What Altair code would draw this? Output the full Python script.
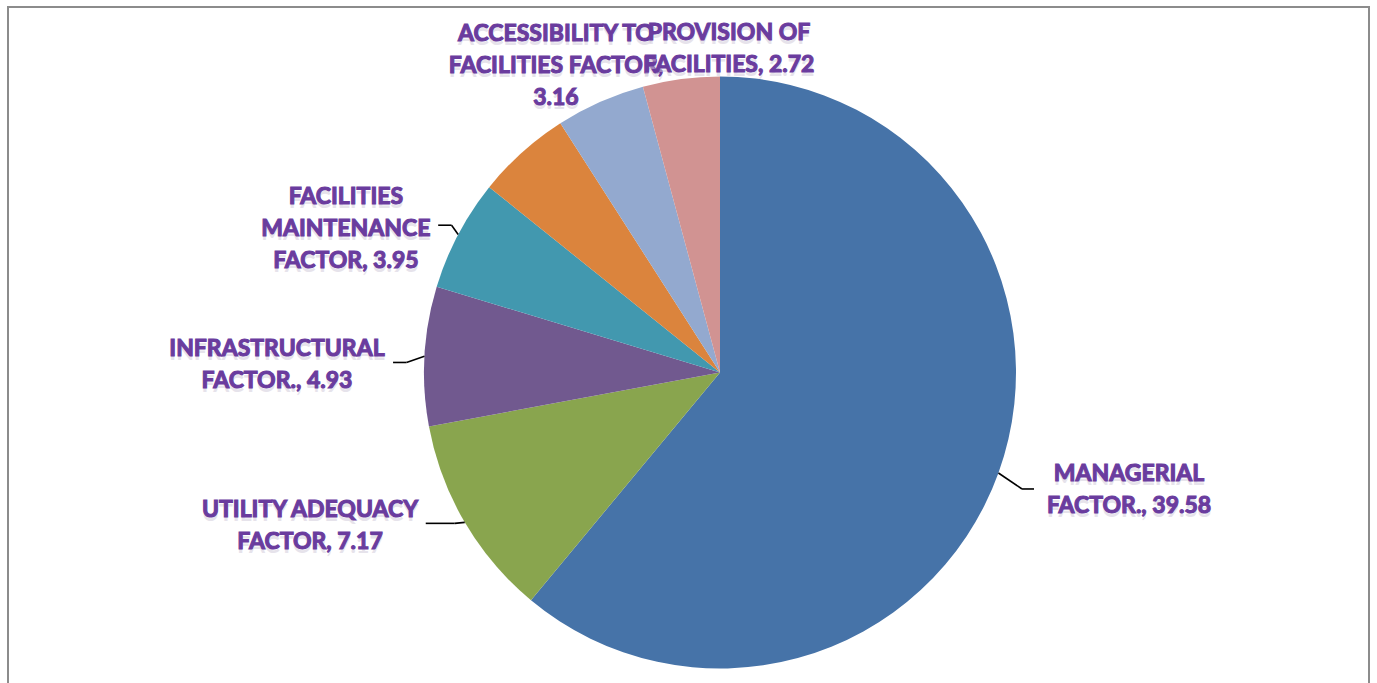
import altair as alt
import pandas as pd

# ---------------- data ----------------
categories = [
    "MANAGERIAL FACTOR.",
    "UTILITY ADEQUACY FACTOR",
    "INFRASTRUCTURAL FACTOR.",
    "FACILITIES MAINTENANCE FACTOR",
    "UNLABELLED SLICE",
    "ACCESSIBILITY TO FACILITIES FACTOR",
    "PROVISION OF FACILITIES",
]
values = [39.58, 7.17, 4.93, 3.95, 3.35, 3.16, 2.72]
labels = [
    "MANAGERIAL\nFACTOR., 39.58",
    "UTILITY ADEQUACY\nFACTOR, 7.17",
    "INFRASTRUCTURAL\nFACTOR., 4.93",
    "FACILITIES\nMAINTENANCE\nFACTOR, 3.95",
    "",
    "ACCESSIBILITY TO\nFACILITIES FACTOR,\n3.16",
    "PROVISION OF\nFACILITIES, 2.72",
]
colors = ["#4673A8", "#89A54E", "#71598F", "#4298AF", "#DB843D", "#93A9CF", "#D19392"]

df = pd.DataFrame({
    "category": categories,
    "value": values,
    "label": labels,
    "order": list(range(len(categories))),
})

# ---------------- style / layout ----------------
W, H = 1377, 683
CX, CY, R = 720, 372.5, 296
TEXT_COLOR = "#6A3C9E"
FONT = "Lato"
FSIZE = 23
LINE_H = 32

# leader lines: (elbow dx, elbow dy, horizontal length) relative to slice edge point
leaders = {
    "MANAGERIAL FACTOR.": (23.6, 16.0, 12.0),
    "UTILITY ADEQUACY FACTOR": (-10.0, 1.0, -29.0),
    "INFRASTRUCTURAL FACTOR.": (-18.0, 6.3, -13.4),
    "FACILITIES MAINTENANCE FACTOR": (-6.6, -9.2, -13.4),
}
# label block centres: (dx, dy) relative to slice edge point
label_pos = {
    "MANAGERIAL FACTOR.": (130.6, 17.5),
    "UTILITY ADEQUACY FACTOR": (-154.7, 4.0),
    "INFRASTRUCTURAL FACTOR.": (-147.5, 9.0),
    "FACILITIES MAINTENANCE FACTOR": (-112.3, -5.7),
    "ACCESSIBILITY TO FACILITIES FACTOR": (-44.3, -36.0),
    "PROVISION OF FACILITIES": (47.9, -29.8),
}

base = (
    alt.Chart(df)
    .transform_joinaggregate(total="sum(value)")
    .transform_window(cum="sum(value)", sort=[alt.SortField("order")], frame=[None, 0])
    .transform_calculate(mid="(datum.cum - datum.value/2) / datum.total * 2 * PI")
    .transform_calculate(
        ex=f"{CX} + {R} * sin(datum.mid)",
        ey=f"{CY} - {R} * cos(datum.mid)",
    )
)

pie = alt.Chart(df).mark_arc(outerRadius=R).encode(
    theta=alt.Theta("value:Q", stack=True),
    color=alt.Color("category:N", scale=alt.Scale(domain=categories, range=colors), legend=None),
    order=alt.Order("order:Q"),
    x=alt.value(CX),
    y=alt.value(CY),
)

layers = [pie]

for cat, (edx, edy, hl) in leaders.items():
    seg = base.transform_filter(alt.datum.category == cat).transform_calculate(
        bx=f"datum.ex + {edx}", by=f"datum.ey + {edy}", cx2=f"datum.ex + {edx} + {hl}"
    )
    r1 = seg.mark_rule(color="black", strokeWidth=1.6).encode(
        x=alt.X("ex:Q", scale=None), y=alt.Y("ey:Q", scale=None),
        x2="bx:Q", y2="by:Q",
    )
    r2 = seg.mark_rule(color="black", strokeWidth=1.6).encode(
        x=alt.X("bx:Q", scale=None), y=alt.Y("by:Q", scale=None),
        x2="cx2:Q", y2="by:Q",
    )
    layers += [r1, r2]

for cat, (dx, dy) in label_pos.items():
    nbreaks = labels[categories.index(cat)].count("\n")
    shift = nbreaks * LINE_H / 2
    lab = base.transform_filter(alt.datum.category == cat).transform_calculate(
        lx=f"datum.ex + {dx}", ly=f"datum.ey + {dy} - {shift}"
    )
    shadow = lab.mark_text(
        font=FONT, fontSize=FSIZE, fontWeight="bold", color="#CFC8D8", opacity=0.5,
        align="center", baseline="middle", lineBreak="\n", lineHeight=LINE_H, dy=4,
    ).encode(x=alt.X("lx:Q", scale=None), y=alt.Y("ly:Q", scale=None), text="label:N")
    txt = lab.mark_text(
        font=FONT, fontSize=FSIZE, fontWeight="bold", color=TEXT_COLOR,
        stroke=TEXT_COLOR, strokeWidth=1.1,
        align="center", baseline="middle", lineBreak="\n", lineHeight=LINE_H,
    ).encode(x=alt.X("lx:Q", scale=None), y=alt.Y("ly:Q", scale=None), text="label:N")
    layers += [shadow, txt]

frame = alt.Chart(pd.DataFrame({"f": [0]})).mark_rect(
    filled=False, stroke="#8C8C8C", strokeWidth=2
).encode(x=alt.value(8), x2=alt.value(1369), y=alt.value(7), y2=alt.value(720))
layers.append(frame)

chart = (
    alt.layer(*layers)
    .properties(width=W, height=H, autosize=alt.AutoSizeParams(type="none"), padding=0, background="white")
    .configure_view(stroke=None)
)

chart.save("out.html", embed_options={"renderer": "svg", "actions": False})
